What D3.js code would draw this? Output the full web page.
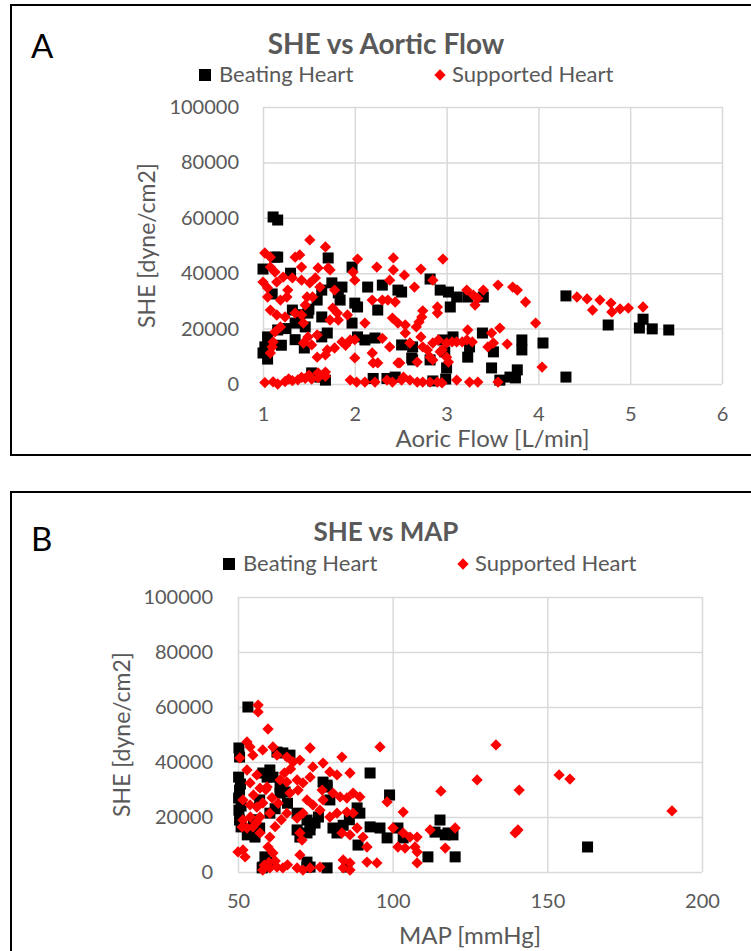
<!DOCTYPE html>
<html>
<head>
<meta charset="utf-8">
<title>SHE vs Aortic Flow / MAP</title>
<script src="https://d3js.org/d3.v7.min.js"></script>
<style>
  body { margin: 0; background: #fff; }
  svg text { font-family: Lato, "Open Sans", sans-serif; }
</style>
</head>
<body>
<script>
// ---- data: [x, SHE] ----
var seriesNames = ["Beating Heart", "Supported Heart"];
var yTicks = [0, 20000, 40000, 60000, 80000, 100000];
var flowTicks = [1, 2, 3, 4, 5, 6];
var mapTicks = [50, 100, 150, 200];

var flowBeating = [
  [1.11,60300],[1.16,59200],[1.13,45800],[1.16,45800],[1.0,41500],[1.71,45500],[1.97,42200],[2.14,35000],
  [2.30,35700],[2.47,33900],[2.0,29200],[2.03,27800],[2.25,26700],[1.86,35000],[1.82,32900],[1.75,36500],
  [1.59,30300],[1.64,24200],[1.46,20600],[1.35,22000],[1.32,26700],[1.49,25600],[1.16,19500],[1.05,17000],
  [1.02,13400],[1.0,11200],[1.64,17000],[1.70,18400],[1.97,22000],[2.03,17000],[2.11,15900],[2.22,16600],
  [1.53,4000],[1.62,2500],[1.68,1400],[2.44,2500],[1.64,33900],[1.84,30300],[2.51,33200],[2.82,37900],
  [2.93,33900],[3.02,33200],[3.11,31400],[3.04,27800],[3.23,31400],[3.40,31400],[2.96,15900],[3.07,17000],
  [2.98,11600],[3.23,9700],[3.25,13400],[3.39,18400],[3.51,11600],[3.49,5800],[3.69,2500],[3.82,15900],
  [3.82,12300],[3.77,5100],[3.75,2200],[4.05,14800],[3.0,5800],[2.63,8700],[2.82,8700],[2.51,14100],
  [2.62,9400],[2.63,13400],[2.99,1800],[2.85,1100],[3.58,1400],[4.30,31800],[4.30,2500],[4.76,21300],
  [5.14,23400],[5.10,20200],[5.24,19900],[5.42,19500],[1.1,32500],[1.3,40000],[1.25,20000],[1.4,25000],
  [1.5,27000],[1.45,13000],[1.35,16000],[2.2,2000],[2.35,2000],[1.05,9000],[1.2,14000]
];

var flowSupported = [
  [1.51,52000],[1.68,49500],[1.02,47300],[1.08,45800],[1.35,45800],[1.40,46600],[1.71,41900],[1.60,41900],
  [2.03,45100],[2.24,42200],[2.42,45500],[2.42,41200],[2.38,37500],[1.98,40400],[2.0,37500],[1.42,42200],
  [1.08,42200],[1.13,40400],[1.0,36800],[1.05,34700],[1.15,36800],[1.22,38600],[1.32,38300],[1.42,37500],
  [1.51,36500],[1.57,38300],[1.62,35000],[1.27,33900],[1.26,31400],[1.19,30300],[1.05,31400],[1.78,33900],
  [1.73,41200],[1.48,31400],[1.54,31400],[1.46,28500],[1.08,26700],[1.15,24900],[1.24,24200],[1.35,25600],
  [1.42,24900],[1.76,27400],[1.81,25600],[1.73,23100],[1.82,23100],[1.92,24900],[1.19,20600],[1.13,18800],
  [1.44,22000],[2.11,22000],[2.19,30300],[2.3,30300],[2.36,30300],[2.44,29600],[2.41,23800],[2.47,22000],
  [1.11,15200],[1.1,13400],[1.08,11200],[1.49,17000],[1.59,17700],[1.44,14800],[1.53,14100],[1.70,12300],
  [1.78,13000],[1.86,15200],[1.95,15900],[1.59,9700],[1.68,10500],[2.0,9400],[2.19,11200],[2.2,7600],
  [2.25,7600],[2.38,13400],[2.47,7600],
  [1.02,500],[1.11,800],[1.16,0],[1.24,900],[1.32,1200],[1.38,1500],[1.46,2000],[1.53,1800],[1.60,2300],
  [1.68,2800],[1.60,4000],[1.68,4300],[1.95,1400],[2.02,700],[2.11,700],[2.22,700],[2.35,1400],[2.41,700],
  [2.51,1400],[2.53,2500],[2.60,1400],[2.68,700],[2.74,700],[2.82,700],[2.9,700],[2.95,400],[3.11,1400],
  [3.25,700],[3.34,700],[3.56,700],[1.28,1800],[1.42,2400],[1.5,3200],
  [2.96,45100],[2.72,41500],[2.54,39300],[2.65,35000],[2.85,37500],[3.22,33900],[3.29,32100],[3.34,31000],
  [3.40,33900],[3.31,28500],[3.56,35700],[3.72,35000],[3.77,33900],[3.86,29600],[3.97,22000],[4.04,6100],
  [2.74,26400],[2.73,24200],[2.70,22400],[2.67,20600],[2.9,27800],[2.9,25600],[2.55,21300],[2.55,18400],
  [2.6,14800],[2.72,17000],[2.74,13400],[2.79,12300],[2.85,14800],[2.91,15900],[2.95,12300],[3.0,9700],
  [3.02,7900],[2.85,8700],[2.82,9700],[2.68,7900],[2.49,7600],[3.0,14800],[3.06,15200],[3.11,15200],
  [3.17,15200],[3.22,15900],[3.28,15200],[2.93,11600],[3.23,19500],[3.58,20200],[3.49,18400],[3.51,14800],
  [3.45,13400],[3.66,14400],[4.42,31400],[4.53,30700],[4.67,30300],[4.59,26700],[4.79,29200],[4.89,27100],
  [4.98,27400],[5.14,27800],[4.8,26000],[2.0,16000],[1.9,14000],[2.3,16500]
];

var mapBeating = [
  [53.2,60000],[50.3,45100],[50.5,41800],[50.2,34500],[50.5,29800],[50.2,26900],[50.3,22500],[50.5,18900],
  [51,16400],[53,13500],[55.5,12700],[58,36000],[59.4,34500],[63.6,28700],[62.6,43600],[64.5,43300],
  [66.8,42500],[60.3,21400],[57,26200],[73.3,17100],[72.3,14200],[77.5,32700],[78.8,31600],[80.7,16000],
  [82,14200],[88.5,23300],[89.4,21400],[92.7,36000],[88.8,9800],[92.7,16400],[95.9,16000],[99,28000],
  [98.2,12400],[101.7,16000],[103.4,12400],[111.4,5500],[115.3,18900],[117,13500],[113.7,14500],[117.9,14200],
  [119.5,13500],[120.2,5500],[163,9100],[58,1800],[72.3,1800],[78.8,1500],[85.2,1800],[60.3,37100],
  [61.3,34500],[63.6,30900],[65.2,29100],[69.1,21400],[72.3,18900],[73.3,15300],[74.9,17800],[78.8,30900],
  [79.7,26200],[69.1,15300],[70,12700],[58.7,5500],[59.7,3600],[72.3,3600],[73.3,1800],[57.8,1500],
  [50.8,32000],[51,24000],[55,19000],[57,16000],[62,23000],[66,25000],[76,20000],[84,17000],[86,19000]
];

var mapSupported = [
  [56.5,60700],[56.5,58200],[59.7,52000],[52.9,47300],[53.9,45500],[50.6,41500],[54.8,42500],[58,44400],
  [61.3,45500],[62.6,42500],[65.8,41800],[67.8,40000],[70,40700],[73.3,45100],[83.6,41800],[95.9,45500],
  [77.5,39600],[74.2,38200],[79.7,36400],[82,35300],[86.2,36000],[52.9,37100],[56.1,35300],[53.9,32400],
  [57.1,30500],[59.4,30900],[63.6,33500],[65.8,32700],[69.1,33500],[71,32400],[73.3,34500],[66.8,28700],
  [69.4,29800],[72.3,26200],[74.2,24400],[51.6,26200],[53.9,24400],[56.1,23600],[58,25100],[57.1,20000],
  [60.3,21400],[51.6,18900],[51.3,16400],[52.9,16000],[54.8,16400],[57.1,14200],[60.3,12700],[59.7,9100],
  [61.3,6900],[50,7300],[52.3,5500],[65.8,21400],[69.1,19600],[71,21400],[70,14200],[70.7,11600],
  [70,6200],[76.5,22500],[79.7,20000],[82,21400],[85.2,21800],[87.2,21400],[80.7,28700],[83,27300],
  [85.2,26900],[87.2,28700],[89.4,27300],[77.2,29800],[77.5,26200],[83.6,14200],[86.2,13500],[88.5,16000],
  [90.4,12700],[91.7,9100],[91.7,3600],[94.9,3300],[98.2,25500],[100.1,16000],[103.4,14200],[103.4,21800],
  [101.7,9100],[104,8700],[107.9,12700],[112.1,15300],[115.6,29400],[117,8700],[107.9,3300],[133.4,46200],
  [127.3,33500],[140.9,29800],[153.8,35300],[157.3,33800],[190.3,22200],[120.2,16000],[139.6,14200],[140.5,15300],
  [105.6,12700],[107.2,9100],[107.9,7300],
  [58,700],[60.3,1500],[62.6,1800],[64.5,1500],[69.1,1500],[71,700],[73.3,1500],[76.5,1800],[84,1500],
  [86.2,700],[84,4400],[86.2,3300],[51.6,8000],[60,3500],[62,4000],[58.5,2500],[66,2600],[59,30000],
  [61,27000],[63,25000],[65,36000],[67,37500],[55,28000],[54,20000],[56,18000],[62,16500],[64,19000]
];

var width = 751, height = 951;
var textColor = "#595959", gridColor = "#d9d9d9";

var svg = d3.select("body").append("svg")
    .attr("width", width)
    .attr("height", height);

var panels = [
  { letter: "A", title: "SHE vs Aortic Flow", titleSize: 28, xTitle: "Aoric Flow [L/min]",
    box: [11, 5, 760, 450], letterY: 58, titleY: 54, legendY: 75,
    legendX: [205, 440],
    plot: { left: 263, right: 722, top: 107, bottom: 384 },
    xDomain: [1, 6], xTicks: flowTicks, xPad: 23, yPad: 24,
    yTitleX: 155, xTitleY: 447,
    beating: flowBeating, supported: flowSupported },
  { letter: "B", title: "SHE vs MAP", titleSize: 26, xTitle: "MAP [mmHg]",
    box: [11, 492, 760, 480], letterY: 551, titleY: 541, legendY: 564,
    legendX: [229, 463],
    plot: { left: 238, right: 702, top: 597, bottom: 872 },
    xDomain: [50, 200], xTicks: mapTicks, xPad: 22, yPad: 25,
    yTitleX: 130, xTitleY: 944,
    beating: mapBeating, supported: mapSupported }
];

var diamond = d3.symbol().type(d3.symbolSquare).size(64);

panels.forEach(function(p) {
  var g = svg.append("g");

  g.append("rect")
    .attr("x", p.box[0]).attr("y", p.box[1])
    .attr("width", p.box[2]).attr("height", p.box[3])
    .attr("fill", "none").attr("stroke", "#000").attr("stroke-width", 2);

  g.append("text")
    .attr("x", 31).attr("y", p.letterY)
    .attr("font-size", 33).attr("fill", "#000")
    .text(p.letter);

  g.append("text")
    .attr("x", 386).attr("y", p.titleY)
    .attr("text-anchor", "middle")
    .attr("font-size", p.titleSize).attr("font-weight", "bold")
    .attr("fill", textColor)
    .text(p.title);

  // legend
  g.append("rect")
    .attr("x", p.legendX[0] - 6).attr("y", p.legendY - 6)
    .attr("width", 12).attr("height", 12).attr("fill", "#000");
  g.append("path")
    .attr("d", diamond)
    .attr("transform", "translate(" + p.legendX[1] + "," + p.legendY + ") rotate(45)")
    .attr("fill", "#ff0000");
  g.selectAll(".leg")
    .data(seriesNames)
    .enter().append("text")
    .attr("x", function(d, i) { return p.legendX[i] + (i == 0 ? 14 : 12); })
    .attr("y", p.legendY + 7)
    .attr("font-size", 22)
    .attr("fill", textColor)
    .text(function(d) { return d; });

  var x = d3.scaleLinear().domain(p.xDomain).range([p.plot.left, p.plot.right]);
  var y = d3.scaleLinear().domain([0, 100000]).range([p.plot.bottom, p.plot.top]);
  var w = p.plot.right - p.plot.left, h = p.plot.bottom - p.plot.top;

  var xAxis = g.append("g")
    .attr("transform", "translate(0," + p.plot.bottom + ")")
    .call(d3.axisBottom(x).tickValues(p.xTicks).tickSize(-h).tickPadding(p.xPad)
      .tickFormat(d3.format("d")));
  var yAxis = g.append("g")
    .attr("transform", "translate(" + p.plot.left + ",0)")
    .call(d3.axisLeft(y).tickValues(yTicks).tickSize(-w).tickPadding(p.yPad)
      .tickFormat(d3.format("d")));

  [xAxis, yAxis].forEach(function(a) {
    a.select(".domain").remove();
    a.selectAll("line").attr("stroke", gridColor).attr("stroke-width", 1.5);
    a.selectAll("text").attr("font-size", 20).attr("fill", textColor)
      .attr("font-family", "Lato, 'Open Sans', sans-serif");
  });

  g.append("text")
    .attr("transform", "translate(" + p.yTitleX + "," + (p.plot.top + h / 2) + ") rotate(-90)")
    .attr("text-anchor", "middle")
    .attr("font-size", 23).attr("fill", textColor)
    .text("SHE [dyne/cm2]");

  g.append("text")
    .attr("x", p.plot.left + w / 2).attr("y", p.xTitleY)
    .attr("text-anchor", "middle")
    .attr("font-size", 24).attr("fill", textColor)
    .text(p.xTitle);

  g.append("g").selectAll("rect")
    .data(p.beating)
    .enter().append("rect")
    .attr("x", function(d) { return x(d[0]) - 5.5; })
    .attr("y", function(d) { return y(d[1]) - 5.5; })
    .attr("width", 11).attr("height", 11)
    .attr("fill", "#000");

  g.append("g").selectAll("path")
    .data(p.supported)
    .enter().append("path")
    .attr("d", diamond)
    .attr("transform", function(d) {
      return "translate(" + x(d[0]) + "," + y(d[1]) + ") rotate(45)";
    })
    .attr("fill", "#ff0000");
});
</script>
</body>
</html>
